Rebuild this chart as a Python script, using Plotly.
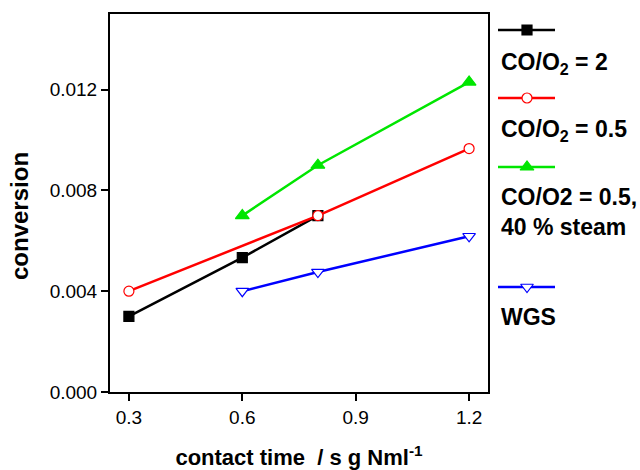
import plotly.graph_objects as go

# ---- data ----
x_co2 = [0.3, 0.6, 0.8]
y_co2 = [0.0030, 0.00533, 0.0070]

x_co05 = [0.3, 0.8, 1.2]
y_co05 = [0.0040, 0.0070, 0.00966]

x_steam = [0.6, 0.8, 1.2]
y_steam = [0.0070, 0.0090, 0.0123]

x_wgs = [0.6, 0.8, 1.2]
y_wgs = [0.0040, 0.00476, 0.00618]

x_ticks = [0.3, 0.6, 0.9, 1.2]
y_ticks = [0.000, 0.004, 0.008, 0.012]

names = ["CO/O<sub>2</sub> = 2", "CO/O<sub>2</sub> = 0.5",
         "CO/O2 = 0.5,<br>40 % steam", "WGS"]

FONT = "Liberation Sans, Arial, sans-serif"

styles = [
    dict(color="black", symbol="square", fill="black", size=10),
    dict(color="red", symbol="circle", fill="white", size=10),
    dict(color="#00e600", symbol="triangle-up", fill="#00e600", size=12),
    dict(color="blue", symbol="triangle-down", fill="white", size=11),
]

series = [(x_co2, y_co2), (x_co05, y_co05), (x_steam, y_steam), (x_wgs, y_wgs)]

fig = go.Figure()
for (xs, ys), st, nm in zip(series, styles, names):
    fig.add_trace(go.Scatter(
        x=xs, y=ys, mode="lines+markers", name=nm, showlegend=False,
        line=dict(color=st["color"], width=2.5),
        marker=dict(symbol=st["symbol"], size=st["size"], color=st["fill"],
                    line=dict(color=st["color"], width=1.2)),
    ))

# ---- custom legend (sample line above, label below) on a pixel overlay axis ----
L, R, T, B = 110, 2, 14, 78
W, H = 640, 470
leg_line_y = [30, 98, 167, 287]
leg_text_y = [63, 130, 212, 317]
lx0, lx1, lxm = 498, 555, 527
for st, ly, ty, nm in zip(styles, leg_line_y, leg_text_y, names):
    fig.add_trace(go.Scatter(
        x=[lx0, lxm, lx1], y=[ly, ly, ly], xaxis="x2", yaxis="y2",
        mode="lines", showlegend=False, hoverinfo="skip",
        line=dict(color=st["color"], width=2.5)))
    fig.add_trace(go.Scatter(
        x=[lxm], y=[ly], xaxis="x2", yaxis="y2",
        mode="markers", showlegend=False, hoverinfo="skip",
        marker=dict(symbol=st["symbol"], size=st["size"], color=st["fill"],
                    line=dict(color=st["color"], width=1.2))))
    fig.add_annotation(x=499, y=ty, xref="x2", yref="y2", text="<b>%s</b>" % nm,
                       showarrow=False, xanchor="left", yanchor="middle", align="left",
                       font=dict(family=FONT, size=23, color="black"))

PW = W - L - R
PH = H - T - B
# y-axis title as a rotated annotation (placed slightly below plot centre, as in the reference)
fig.add_annotation(x=(19 - L) / PW, y=(H - B - 216) / PH, xref="paper", yref="paper",
                   text="<b>conversion</b>", textangle=-90, showarrow=False,
                   xanchor="center", yanchor="middle",
                   font=dict(family=FONT, size=24, color="black"))

plot_right = 488
fig.update_layout(
    width=W, height=H,
    margin=dict(l=L, r=R, t=T, b=B),
    paper_bgcolor="white", plot_bgcolor="rgba(0,0,0,0)",
    font=dict(family=FONT, color="black"),
    xaxis=dict(
        domain=[0, (plot_right - L) / PW],
        range=[0.25, 1.25], tickvals=x_ticks, ticktext=["%.1f" % v for v in x_ticks],
        ticks="outside", ticklen=7, tickwidth=2, tickcolor="black",
        showline=True, linewidth=2, linecolor="black", mirror=True,
        showgrid=False, zeroline=False,
        tickfont=dict(size=19, family=FONT),
        title=dict(text="<b>contact time  / s g Nml<sup>-1</sup></b>",
                   font=dict(size=22, family=FONT), standoff=23),
    ),
    yaxis=dict(
        range=[0, 0.015], tickvals=y_ticks, ticktext=["%.3f" % v for v in y_ticks],
        ticks="outside", ticklen=7, tickwidth=2, tickcolor="black",
        showline=True, linewidth=2, linecolor="black", mirror=True,
        showgrid=False, zeroline=False,
        tickfont=dict(size=19, family=FONT),
    ),
    xaxis2=dict(domain=[0, 1], range=[L, W - R], visible=False, fixedrange=True),
    yaxis2=dict(domain=[0, 1], range=[H - B, T], visible=False, fixedrange=True,
                anchor="x2"),
)

fig.write_html("out.html")
